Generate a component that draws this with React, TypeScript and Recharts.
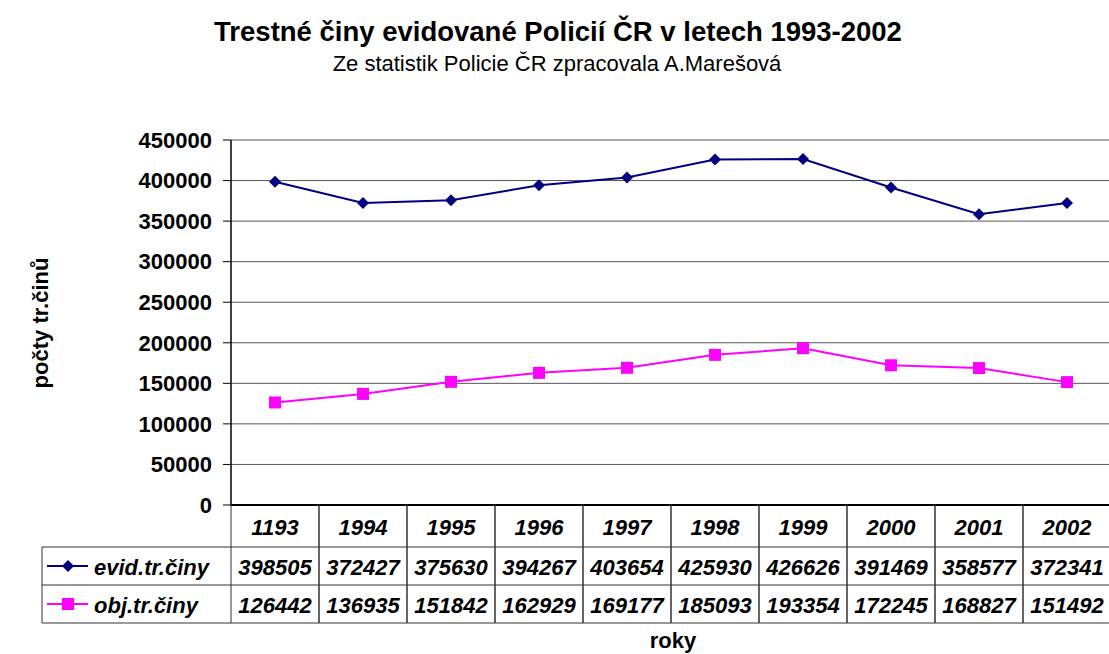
import React from 'react';
import { LineChart, Line, XAxis, YAxis, CartesianGrid } from 'recharts';

const years = ['1193', '1994', '1995', '1996', '1997', '1998', '1999', '2000', '2001', '2002'];
const evidovane = [398505, 372427, 375630, 394267, 403654, 425930, 426626, 391469, 358577, 372341];
const objasnene = [126442, 136935, 151842, 162929, 169177, 185093, 193354, 172245, 168827, 151492];
const yTicks = [0, 50000, 100000, 150000, 200000, 250000, 300000, 350000, 400000, 450000];

const seriesNames = ['evid.tr.činy', 'obj.tr.činy'];
const NAVY = '#000080';
const MAGENTA = '#FF00FF';
const FONT = '"Liberation Sans", Arial, sans-serif';

const W = 1112;
const H = 654;
const LEFT = 231;
const RIGHT = 1;
const TOP = 140;
const AXIS_H = 118;
const BOTTOM = 31;
const CELL_W = (W - LEFT - RIGHT) / years.length;
const GRID = '#555';
const TABLE = '#333';

const data = years.map((year, i) => ({ year, evid: evidovane[i], obj: objasnene[i] }));

const Diamond = ({ cx, cy, size = 6 }: any) => {
  if (cx == null || cy == null) return null;
  return <polygon points={`${cx},${cy - size} ${cx + size},${cy} ${cx},${cy + size} ${cx - size},${cy}`} fill={NAVY} />;
};

const Square = ({ cx, cy, size = 6 }: any) => {
  if (cx == null || cy == null) return null;
  return <rect x={cx - size} y={cy - size} width={size * 2} height={size * 2} fill={MAGENTA} />;
};

// each x tick draws its own column of the data table
const TableTick = ({ x, y, payload }: any) => {
  const i = payload.index;
  const cellText = { fontFamily: FONT, fontWeight: 700, fontStyle: 'italic', fontSize: 22, fill: '#000' };
  return (
    <g>
      <line x1={x - CELL_W / 2} x2={x - CELL_W / 2} y1={y} y2={y + AXIS_H} stroke={TABLE} />
      <line x1={x + CELL_W / 2} x2={x + CELL_W / 2} y1={y} y2={y + AXIS_H} stroke={TABLE} />
      <text x={x} y={y + 30} textAnchor="middle" style={cellText}>{payload.value}</text>
      <text x={x} y={y + 70} textAnchor="middle" style={cellText}>{evidovane[i]}</text>
      <text x={x} y={y + 108} textAnchor="middle" style={cellText}>{objasnene[i]}</text>
    </g>
  );
};

const Overlay = () => {
  const rowTop = TOP + (H - TOP - BOTTOM - AXIS_H) + 42;
  const rows = [rowTop, rowTop + 38, rowTop + 76];
  const bold = { fontFamily: FONT, fontWeight: 700, fill: '#000' };
  return (
    <svg width={W} height={H} style={{ position: 'absolute', left: 0, top: 0, pointerEvents: 'none' }}>
      <text x={558} y={41} textAnchor="middle" style={{ ...bold, fontSize: 27.5 }}>
        Trestné činy evidované Policií ČR v letech 1993-2002
      </text>
      <text x={557} y={71} textAnchor="middle" style={{ fontFamily: FONT, fontSize: 22, fill: '#000' }}>
        Ze statistik Policie ČR zpracovala A.Marešová
      </text>
      <text transform="translate(48,323) rotate(-90)" textAnchor="middle" style={{ ...bold, fontSize: 22 }}>
        počty tr.činů
      </text>
      <text x={673} y={648} textAnchor="middle" style={{ ...bold, fontSize: 22 }}>roky</text>
      {rows.map((ry) => (
        <line key={ry} x1={42} x2={W} y1={ry} y2={ry} stroke={TABLE} />
      ))}
      <line x1={42} x2={42} y1={rows[0]} y2={rows[2]} stroke={TABLE} />
      <line x1={47} x2={88} y1={rows[0] + 19} y2={rows[0] + 19} stroke={NAVY} strokeWidth={2} />
      <Diamond cx={68} cy={rows[0] + 19} size={6} />
      <line x1={47} x2={88} y1={rows[1] + 19} y2={rows[1] + 19} stroke={MAGENTA} strokeWidth={2} />
      <Square cx={68} cy={rows[1] + 19} size={6} />
      <text x={94} y={rows[0] + 28} style={{ ...bold, fontStyle: 'italic', fontSize: 22 }}>{seriesNames[0]}</text>
      <text x={94} y={rows[1] + 28} style={{ ...bold, fontStyle: 'italic', fontSize: 22 }}>{seriesNames[1]}</text>
    </svg>
  );
};

export default function App() {
  return (
    <div style={{ position: 'absolute', left: 0, top: 0, width: 1109, height: H, overflow: 'hidden', background: '#fff' }}>
      <LineChart width={W} height={H} data={data} margin={{ top: TOP, right: RIGHT, bottom: BOTTOM, left: 31 }}>
        <CartesianGrid horizontal vertical={false} stroke={GRID} strokeDasharray="" />
        <XAxis
          dataKey="year"
          interval={0}
          height={AXIS_H}
          padding={{ left: CELL_W / 2, right: CELL_W / 2 }}
          axisLine={{ stroke: '#000', strokeWidth: 2 }}
          tickLine={false}
          tickSize={0}
          tickMargin={0}
          tick={<TableTick />}
        />
        <YAxis
          width={200}
          domain={[0, 450000]}
          ticks={yTicks}
          interval={0}
          axisLine={{ stroke: '#000', strokeWidth: 1.5 }}
          tickLine={{ stroke: '#000' }}
          tickSize={8}
          tickMargin={11}
          tick={{ fontFamily: FONT, fontWeight: 700, fontSize: 22, fill: '#000' }}
        />
        <Line
          dataKey="evid"
          name={seriesNames[0]}
          stroke={NAVY}
          strokeWidth={2}
          dot={<Diamond size={6} />}
          activeDot={false}
          isAnimationActive={false}
        />
        <Line
          dataKey="obj"
          name={seriesNames[1]}
          stroke={MAGENTA}
          strokeWidth={2}
          dot={<Square size={6} />}
          activeDot={false}
          isAnimationActive={false}
        />
      </LineChart>
      <Overlay />
    </div>
  );
}
